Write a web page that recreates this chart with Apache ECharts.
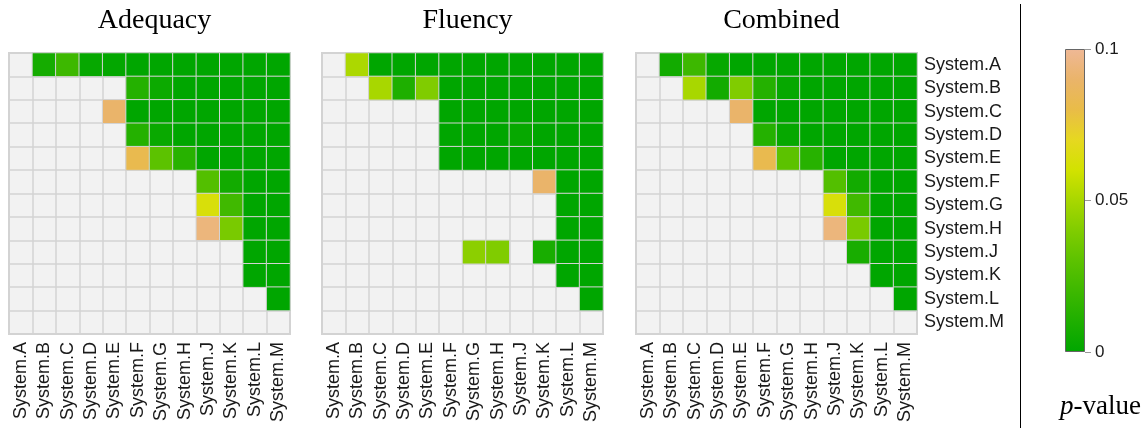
<!DOCTYPE html>
<html>
<head>
<meta charset="utf-8">
<script src="https://cdn.jsdelivr.net/npm/echarts@6/dist/echarts.min.js"></script>
<style>
  html, body { margin: 0; background: #fff; }
  #chart { width: 1147px; height: 428px; }
</style>
</head>
<body>
<div id="chart"></div>
<script>
// grey cells (diagonal, lower half, not significant) are null
const _ = null

const systems = ['System.A', 'System.B', 'System.C', 'System.D', 'System.E', 'System.F',
  'System.G', 'System.H', 'System.J', 'System.K', 'System.L', 'System.M']

const panelTitles = ['Adequacy', 'Fluency', 'Combined']

// rows = System.A..M (top to bottom), cols = System.A..M
const adequacy = [
  [_, 0.007, 0.02, 0.002, 0.001, 0, 0, 0, 0, 0, 0, 0],
  [_, _, _, _, _, 0.012, 0.004, 0, 0, 0, 0, 0],
  [_, _, _, _, 0.09, 0, 0, 0, 0, 0, 0, 0],
  [_, _, _, _, _, 0.012, 0.003, 0, 0, 0, 0, 0],
  [_, _, _, _, _, 0.082, 0.03, 0.013, 0, 0, 0, 0],
  [_, _, _, _, _, _, _, _, 0.027, 0.006, 0, 0],
  [_, _, _, _, _, _, _, _, 0.063, 0.021, 0, 0],
  [_, _, _, _, _, _, _, _, 0.094, 0.038, 0, 0],
  [_, _, _, _, _, _, _, _, _, _, 0, 0],
  [_, _, _, _, _, _, _, _, _, _, 0, 0],
  [_, _, _, _, _, _, _, _, _, _, _, 0],
  [_, _, _, _, _, _, _, _, _, _, _, _]
]

const fluency = [
  [_, 0.051, 0, 0, 0, 0, 0, 0, 0, 0, 0, 0],
  [_, _, 0.05, 0.01, 0.04, 0, 0, 0, 0, 0, 0, 0],
  [_, _, _, _, _, 0, 0, 0, 0, 0, 0, 0],
  [_, _, _, _, _, 0, 0, 0, 0.002, 0, 0, 0],
  [_, _, _, _, _, 0, 0, 0, 0, 0, 0, 0],
  [_, _, _, _, _, _, _, _, _, 0.09, 0, 0],
  [_, _, _, _, _, _, _, _, _, _, 0, 0],
  [_, _, _, _, _, _, _, _, _, _, 0, 0],
  [_, _, _, _, _, _, 0.043, 0.04, _, 0.008, 0, 0],
  [_, _, _, _, _, _, _, _, _, _, 0, 0],
  [_, _, _, _, _, _, _, _, _, _, _, 0],
  [_, _, _, _, _, _, _, _, _, _, _, _]
]

const combined = [
  [_, 0.006, 0.02, 0.002, 0, 0, 0, 0, 0, 0, 0, 0],
  [_, _, 0.05, 0.006, 0.04, 0.012, 0.002, 0, 0, 0, 0, 0],
  [_, _, _, _, 0.09, 0, 0, 0, 0, 0, 0, 0],
  [_, _, _, _, _, 0.012, 0.002, 0, 0, 0, 0, 0],
  [_, _, _, _, _, 0.082, 0.03, 0.013, 0, 0, 0, 0],
  [_, _, _, _, _, _, _, _, 0.027, 0.006, 0, 0],
  [_, _, _, _, _, _, _, _, 0.063, 0.021, 0, 0],
  [_, _, _, _, _, _, _, _, 0.094, 0.038, 0, 0],
  [_, _, _, _, _, _, _, _, _, 0.008, 0, 0],
  [_, _, _, _, _, _, _, _, _, _, 0, 0],
  [_, _, _, _, _, _, _, _, _, _, _, 0],
  [_, _, _, _, _, _, _, _, _, _, _, _]
]

// p-value colour scale, 0 .. 0.1 in steps of 0.01
const pvalColors = ['#00A600', '#1EAF00', '#3DB800', '#5CC200', '#80CC00', '#A8D700',
  '#D2E200', '#E6D820', '#E9BC48', '#EAB46A', '#EFB896']
const colorbarTicks = [0, 0.05, 0.1]

function toCells(m) {
  const out = []
  m.forEach(function(row, y) {
    row.forEach(function(v, x) {
      if (v !== null) out.push([x, y, v])
    })
  })
  return out
}

const chart = echarts.init(document.getElementById('chart'))

const panelLeft = [9, 322, 636]
const panelSize = 281
const gridLine = '#D3D3D3'
const sans = 'Liberation Sans'
const serif = 'Liberation Serif'

const grids = []
const xAxes = []
const yAxes = []
const series = []
const titles = []

;[adequacy, fluency, combined].forEach(function(mat, i) {
  grids.push({
    left: panelLeft[i], top: 53, width: panelSize, height: panelSize,
    show: true, backgroundColor: '#F2F2F2', borderColor: gridLine, borderWidth: 2
  })
  xAxes.push({
    type: 'category', gridIndex: i, data: systems,
    axisLine: { show: false }, axisTick: { show: false },
    splitLine: { show: true, interval: 0, lineStyle: { color: gridLine, width: 1.5 } },
    axisLabel: { rotate: 90, interval: 0, fontSize: 18, fontFamily: sans, color: '#1a1a1a', margin: 8 }
  })
  yAxes.push({
    type: 'category', gridIndex: i, data: systems, inverse: true, position: 'right',
    axisLine: { show: false }, axisTick: { show: false },
    splitLine: { show: true, interval: 0, lineStyle: { color: gridLine, width: 1.5 } },
    axisLabel: { show: i === 2, interval: 0, fontSize: 18, fontFamily: sans, color: '#1a1a1a', margin: 7 }
  })
  series.push({
    type: 'heatmap', xAxisIndex: i, yAxisIndex: i,
    data: toCells(mat),
    itemStyle: { borderColor: gridLine, borderWidth: 1 },
    emphasis: { disabled: true }
  })
  titles.push({
    text: panelTitles[i], left: panelLeft[i] + panelSize / 2, textAlign: 'center', top: 2,
    textStyle: { fontFamily: serif, fontSize: 28, fontWeight: 'normal', color: '#000' }
  })
})

// colour bar
grids.push({ left: 1065, top: 49, width: 20, height: 303 })
xAxes.push({ type: 'category', gridIndex: 3, data: ['p'], show: false })
yAxes.push({
  type: 'value', gridIndex: 3, position: 'right',
  min: colorbarTicks[0], max: colorbarTicks[2], interval: colorbarTicks[1],
  axisLine: { show: false },
  axisTick: { show: true, length: 6, lineStyle: { color: '#999' } },
  splitLine: { show: false },
  axisLabel: { fontSize: 17, fontFamily: sans, color: '#1a1a1a', margin: 10 }
})
series.push({
  type: 'bar', xAxisIndex: 3, yAxisIndex: 3, barWidth: '100%',
  data: [colorbarTicks[2]],
  itemStyle: {
    borderColor: '#666', borderWidth: 1,
    color: {
      type: 'linear', x: 0, y: 1, x2: 0, y2: 0,
      colorStops: pvalColors.map(function(c, k) {
        return { offset: k / (pvalColors.length - 1), color: c }
      })
    }
  },
  silent: true
})

chart.setOption({
  animation: false,
  title: titles,
  grid: grids,
  xAxis: xAxes,
  yAxis: yAxes,
  visualMap: {
    show: false, type: 'continuous', min: 0, max: 0.1, seriesIndex: [0, 1, 2],
    inRange: { color: pvalColors }
  },
  series: series,
  graphic: [
    {
      type: 'line', silent: true,
      shape: { x1: 1020.5, y1: 4, x2: 1020.5, y2: 428 },
      style: { stroke: '#000', lineWidth: 1 }
    },
    {
      type: 'text', silent: true, x: 1060, y: 407,
      style: {
        text: '{p|p}-value', fontFamily: serif, fontSize: 27, fill: '#000',
        verticalAlign: 'middle',
        rich: { p: { fontStyle: 'italic', fontFamily: serif, fontSize: 27 } }
      }
    }
  ]
})
</script>
</body>
</html>
